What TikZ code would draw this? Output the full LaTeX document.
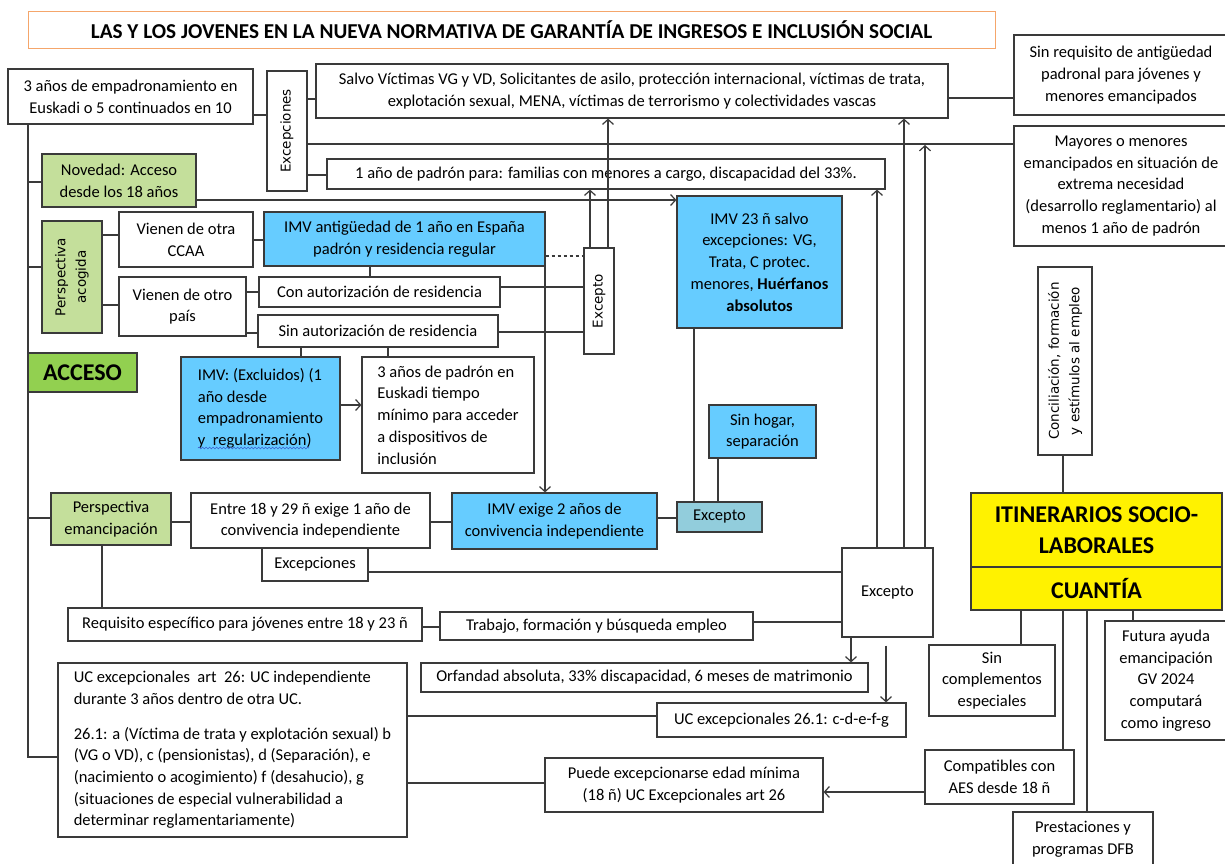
\documentclass[tikz,border=0pt]{standalone}
\usepackage{fontspec}
\setmainfont{Carlito}
\newfontfamily\vfont{DejaVu Sans}
\usetikzlibrary{arrows.meta,decorations.pathmorphing}
\definecolor{lc}{HTML}{3A3A3A}
\definecolor{lgreen}{HTML}{C4DF9B}
\definecolor{dgreen}{HTML}{92D050}
\definecolor{bluec}{HTML}{66CCFF}
\definecolor{tealc}{HTML}{92CDDC}
\definecolor{orangec}{HTML}{F5A66B}
\definecolor{squig}{HTML}{3A5FD0}
\newcommand\nt{\fontsize{16.5}{21.7}\selectfont}
\newcommand\vt{\vfont\fontsize{13.5}{20.5}\selectfont}
\newcommand\bx[7]{\node[bx,#6,minimum width={(#4)-(#2)},minimum height={(#5)-(#3)}] (#1) at ({((#2)+(#4))/2},{((#3)+(#5))/2}) {#7};}
\newcommand\vbx[7]{\node[bx,rotate=90,font=\vt,#6,minimum width={(#5)-(#3)},minimum height={(#4)-(#2)}] (#1) at ({((#2)+(#4))/2},{((#3)+(#5))/2}) {#7};}
\begin{document}
\begin{tikzpicture}[x=1pt,y=-1pt,
  bx/.style={draw=lc,line width=1.2pt,fill=white,inner sep=1pt,align=center,font=\nt},
  cn/.style={draw=lc,line width=1.2pt},
  ar/.style={cn,-{Straight Barb[length=5pt,width=11pt,line width=1.2pt]}}]
\fill[white] (0,0) rectangle (1225,863);
\useasboundingbox (0,0) rectangle (1225,863);
% nodes
\bx{title}{28}{11}{995}{48}{draw=orangec,line width=1pt,font=\bfseries\fontsize{21.2}{24}\selectfont}{LAS Y LOS JOVENES EN LA NUEVA NORMATIVA DE GARANTÍA DE INGRESOS E INCLUSIÓN SOCIAL}
\bx{A}{8}{69}{253}{124}{}{3 años de empadronamiento en\\Euskadi o 5 continuados en 10}
\vbx{exc}{267}{71}{307}{191}{}{Excepciones}
\bx{salvo}{316}{64}{948}{118}{}{Salvo Víctimas VG y VD, Solicitantes de asilo, protección internacional, víctimas de trata,\\explotación sexual, MENA, víctimas de terrorismo y colectividades vascas}
\bx{sinreq}{1014}{35}{1228}{115}{}{Sin requisito de antigüedad\\padronal para jóvenes y\\menores emancipados}
\bx{mayores}{1014}{126}{1228}{246}{}{Mayores o menores\\emancipados en situación de\\extrema necesidad\\(desarrollo reglamentario) al\\menos 1 año de padrón}
\bx{nov}{42}{154}{196}{207}{fill=lgreen}{Novedad: Acceso\\desde los 18 años}
\bx{uno}{327}{159}{885}{189}{}{1 año de padrón para: familias con menores a cargo, discapacidad del 33\%.}
\vbx{pa}{42}{221}{102}{333}{fill=lgreen}{Perspectiva\\acogida}
\bx{ccaa}{119}{212}{253}{267}{}{Vienen de otra\\CCAA}
\bx{imvant}{264}{212}{545}{266}{fill=bluec}{IMV antigüedad de 1 año en España\\padrón y residencia regular}
\bx{pais}{119}{277}{246}{336}{}{Vienen de otro\\país}
\bx{con}{259}{277}{500}{307}{}{Con autorización de residencia}
\bx{sin}{258}{315}{498}{347}{}{Sin autorización de residencia}
\vbx{exto}{584}{248}{614}{354}{}{Excepto}
\bx{imv23}{677}{196}{842}{328}{fill=bluec}{IMV 23 ñ salvo\\excepciones: VG,\\Trata, C protec.\\menores, \textbf{Huérfanos}\\\textbf{absolutos}}
\bx{acceso}{28}{353}{137}{392}{fill=dgreen,font=\bfseries\fontsize{24}{28}\selectfont}{ACCESO}
\bx{excl}{181}{357}{340}{460}{fill=bluec,align=left}{IMV: (Excluidos) (1\\año desde\\empadronamiento\\y\ \ regularización)}
\bx{tres}{362}{357}{534}{473}{align=left}{3 años de padrón en\\Euskadi tiempo\\mínimo para acceder\\a dispositivos de\\inclusión}
\bx{hogar}{709}{405}{816}{458}{fill=bluec}{Sin hogar,\\separación}
\bx{pe}{51}{493}{171}{545}{fill=lgreen}{Perspectiva\\emancipación}
\bx{entre}{191}{493}{430}{548}{}{Entre 18 y 29 ñ exige 1 año de\\convivencia independiente}
\bx{imv2}{452}{493}{657}{549}{fill=bluec}{IMV exige 2 años de\\convivencia independiente}
\bx{teal}{677}{502}{762}{532}{fill=tealc}{Excepto}
\bx{excs}{262}{548}{368}{581}{}{Excepciones}
\bx{exbig}{842}{548}{933}{637}{}{Excepto}
\bx{itin}{971}{493}{1222}{567}{fill=yellow,font=\bfseries\fontsize{24}{31}\selectfont}{ITINERARIOS SOCIO-\\LABORALES}
\bx{cuan}{971}{567}{1222}{610}{fill=yellow,font=\bfseries\fontsize{24}{31}\selectfont}{CUANTÍA}
\vbx{conc}{1038}{267}{1092}{455}{}{Conciliación, formación\\y estímulos al empleo}
\bx{req}{68}{608}{422}{641}{}{Requisito específico para jóvenes entre 18 y 23 ñ}
\bx{trab}{440}{612}{753}{640}{}{Trabajo, formación y búsqueda empleo}
\bx{uc}{58}{663}{407}{837}{align=left}{UC excepcionales\ \ art\ \ 26: UC independiente\\durante 3 años dentro de otra UC.\\[13pt]26.1: a (Víctima de trata y explotación sexual) b\\(VG o VD), c (pensionistas), d (Separación), e\\(nacimiento o acogimiento) f (desahucio), g\\(situaciones de especial vulnerabilidad a\\determinar reglamentariamente)}
\bx{orf}{421}{663}{868}{692}{}{Orfandad absoluta, 33\% discapacidad, 6 meses de matrimonio}
\bx{uc261}{657}{703}{906}{737}{}{UC excepcionales 26.1: c-d-e-f-g}
\bx{puede}{545}{758}{823}{812}{}{Puede excepcionarse edad mínima\\(18 ñ) UC Excepcionales art 26}
\bx{compat}{925}{750}{1074}{804}{}{Compatibles con\\AES desde 18 ñ}
\bx{sincomp}{929}{645}{1055}{716}{}{Sin\\complementos\\especiales}
\bx{futura}{1105}{621}{1227}{740}{}{Futura ayuda\\emancipación\\GV 2024\\computará\\como ingreso}
\bx{prest}{1013}{812}{1153}{866}{}{Prestaciones y\\programas DFB}
% spell-check underline under "y  regularización)"
\draw[squig,line width=0.6pt,decorate,decoration={snake,amplitude=0.9pt,segment length=3.5pt}] (198,448) -- (309,448);
% connectors
\coordinate (tr) at (28,0);
\coordinate (hline) at (0,145);
\draw[cn] (tr |- A.south) |- (uc.west |- 0,757);
\draw[cn] (tr |- 0,182) -- (nov.west |- 0,182);
\draw[cn] (tr |- 0,267) -- (pa.north |- 0,267);
\draw[cn] (tr |- 0,518) -- (pe.west |- 0,518);
\draw[cn] (A.east |- 0,115) -- (exc.north |- 0,115);
\draw[cn] (exc.south |- 0,99) -- (salvo.west |- 0,99);
\draw[cn] (exc.south |- 0,175) -- (uno.west |- 0,175);
\draw[cn] (exc.south |- 0,144) -- (mayores.west |- 0,144);
\draw[cn] (salvo.east |- 0,98) -- (sinreq.west |- 0,98);
\draw[ar] (nov.east |- 0,200) -- (imv23.west |- 0,200);
\draw[ar] (exto.east -| 590,0) -- (uno.south -| 590,0);
\draw[ar] (exto.east -| 608,0) -- (salvo.south -| 608,0);
\draw[cn,dashed] (imvant.east |- 0,256) -- (exto.north |- 0,256);
\draw[cn] (con.east |- 0,287) -- (exto.north |- 0,287);
\draw[cn] (sin.east |- 0,332) -- (exto.north |- 0,332);
\draw[ar] (imvant.south -| 545,0) -- (imv2.north -| 545,0);
\draw[cn] (imvant.south -| 370,0) -- (con.north -| 370,0);
\draw[cn] (ccaa.east |- 0,240) -- (imvant.west |- 0,240);
\draw[cn] (pa.south |- 0,235) -- (ccaa.west |- 0,235);
\draw[cn] (pa.south |- 0,305) -- (pais.west |- 0,305);
\draw[cn] (pais.east |- 0,292) -- (con.west |- 0,292);
\draw[cn] (pais.east |- 0,333) -- (sin.west |- 0,333);
\draw[cn] (sin.south -| 301,0) -- (excl.north -| 301,0);
\draw[cn] (sin.south -| 388,0) -- (tres.north -| 388,0);
\draw[ar] (excl.east |- 0,405) -- (tres.west |- 0,405);
\draw[cn] (pe.east |- 0,522) -- (entre.west |- 0,522);
\draw[cn] (entre.east |- 0,522) -- (imv2.west |- 0,522);
\draw[cn] (imv2.east |- 0,518) -- (teal.west |- 0,518);
\draw[cn] (teal.north -| 694,0) -- (imv23.south -| 694,0);
\draw[cn] (teal.north -| 718,0) -- (hogar.south -| 718,0);
\draw[cn] (excs.east |- 0,572) -- (exbig.west |- 0,572);
\draw[cn] (pe.south -| 102,0) -- (req.north -| 102,0);
\draw[cn] (req.east |- 0,627) -- (trab.west |- 0,627);
\draw[cn] (trab.east |- 0,622) -- (exbig.west |- 0,622);
\draw[ar] (exbig.south -| 851,0) -- (orf.north -| 851,0);
\draw[ar] (exbig.south -| 886,0) ++(0,8) -- (uc261.north -| 886,0);
\draw[ar] (exbig.north -| 877,0) -- (uno.south -| 877,0);
\draw[ar] (exbig.north -| 904,0) -- (salvo.south -| 904,0);
\draw[ar] (exbig.north -| 925,0) -- (hline -| 925,0);
\draw[cn] (uc.east |- 0,716) -- (uc261.west |- 0,716);
\draw[cn] (uc.east |- 0,783) -- (puede.west |- 0,783);
\draw[ar] (compat.west |- 0,792) -- (puede.east |- 0,792);
\draw[cn] (cuan.south -| 1021,0) -- (sincomp.north -| 1021,0);
\draw[cn] (cuan.south -| 1063,0) -- (compat.north -| 1063,0);
\draw[cn] (cuan.south -| 1087,0) -- (prest.north -| 1087,0);
\draw[cn] (cuan.south -| 1133,0) -- (futura.north -| 1133,0);
\draw[cn] (conc.west -| 1063,0) -- (itin.north -| 1063,0);
\end{tikzpicture}
\end{document}
